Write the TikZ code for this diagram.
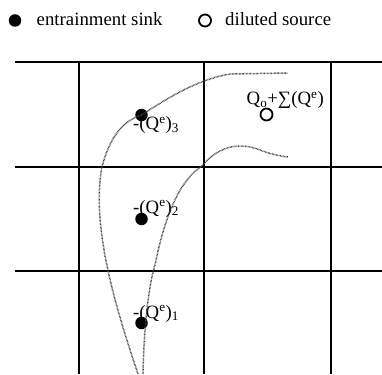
\documentclass[tikz,border=0pt]{standalone}
\usepackage{fontspec}
\setmainfont{Liberation Serif}
\begin{document}
\begin{tikzpicture}[x=1pt,y=-1pt,
  gridline/.style={line width=2pt,black},
  sink/.style={circle,fill=black,inner sep=0pt,minimum size=12.5pt},
  source/.style={circle,draw=black,line width=1.8pt,inner sep=0pt,minimum size=12pt},
  lab/.style={font=\fontsize{18.8}{21}\selectfont,inner sep=0pt,anchor=base west},
  dotline/.style={line width=1.5pt,black!75,dash pattern=on 0.7pt off 0.7pt}]
\useasboundingbox (0,0) rectangle (382,374);
% legend
\node[sink] (ls) at (15,20.5) {};
\node[lab] (lst) at (36.5,25.5) {entrainment sink};
\node[source] (lo) at (205,20.5) {};
\node[lab] (lot) at (225,25.5) {diluted source};
% grid
\foreach \y in {62.5,167,271}{\draw[gridline] (15,\y) -- (382,\y);}
\foreach \x in {79,204,330.5}{\draw[gridline] (\x,62.5) -- (\x,374);}
% points
\node[sink] (s3) at (141.5,115) {};
\node[sink] (s2) at (141.5,219) {};
\node[sink] (s1) at (141.5,323) {};
\node[source] (src) at (266.5,114.5) {};
% labels
\node[lab] (l3) at (133,130) {-(Q\textsuperscript{e})\textsubscript{3}};
\node[lab] (l2) at (133,213) {-(Q\textsuperscript{e})\textsubscript{2}};
\node[lab] (l1) at (133,318) {-(Q\textsuperscript{e})\textsubscript{1}};
\node[lab] (lq) at (246.5,105) {Q\textsubscript{o}+∑(Q\textsuperscript{e})};
% plume edges
\coordinate (ob) at (138,374);
\coordinate (oe) at (288,73);
\coordinate (ib) at (143,374);
\coordinate (ie) at (288,157);
\draw[dotline] (ob) .. controls (120,320) and (90,230) .. (102,167)
  .. controls (110,135) and (125,120) .. (s3.center)
  .. controls (165,100) and (195,80) .. (230,74) -- (oe);
\draw[dotline] (ib) .. controls (144,320) and (150,280) .. (155,265)
  .. controls (165,215) and (180,180) .. (202,166)
  .. controls (215,150) and (235,140) .. (260,150)
  .. controls (270,154) and (280,156) .. (ie);
\end{tikzpicture}
\end{document}
